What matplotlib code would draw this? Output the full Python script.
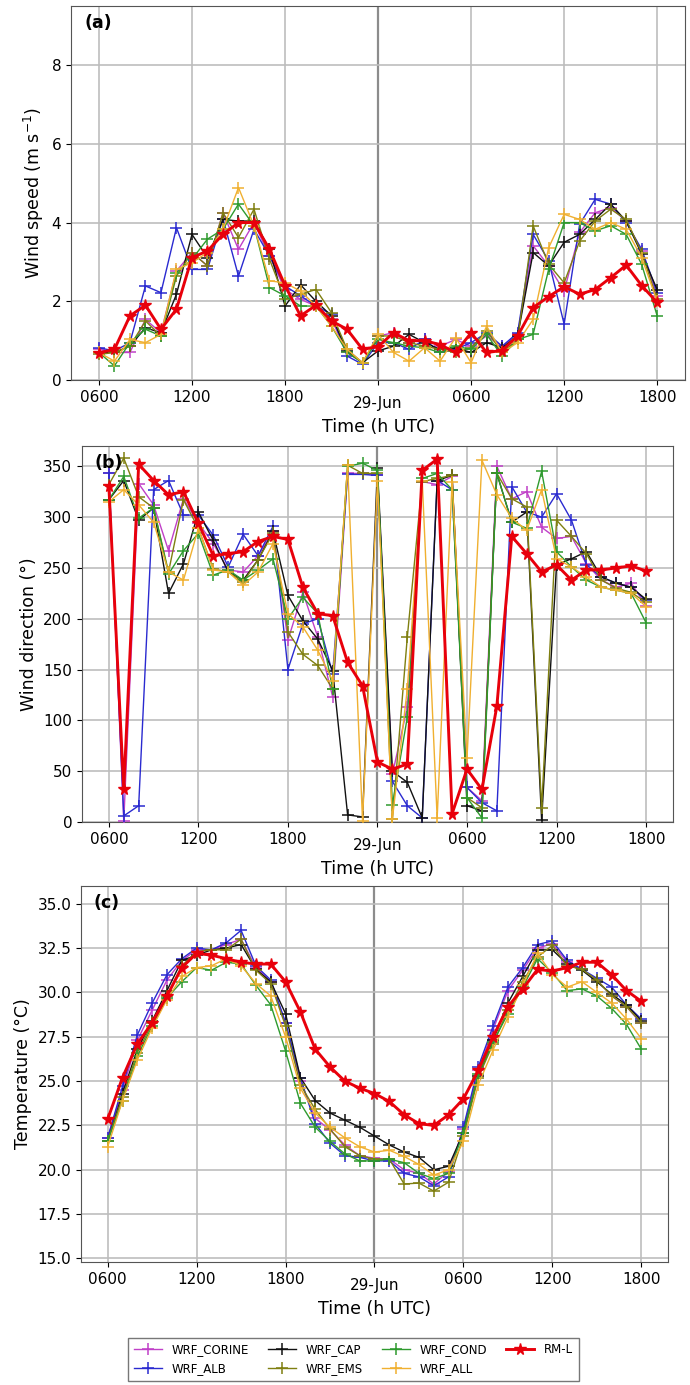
import matplotlib
matplotlib.use("Agg")
import matplotlib.pyplot as plt
import numpy as np

# hours after 0600 UTC on 28 Jun, hourly to 1800 UTC on 29 Jun
hours = np.arange(37)
hour_ticks = [0, 6, 12, 24, 30, 36]
hour_labels = ["0600", "1200", "1800", "0600", "1200", "1800"]
day_tick = [18]
day_label = ["29-Jun"]

names = ["WRF_CORINE", "WRF_ALB", "WRF_CAP", "WRF_EMS", "WRF_COND", "WRF_ALL", "RM-L"]
colors = ["#c040c8", "#2a2ad0", "#111111", "#7f7f10", "#2e9a2e", "#f0b030", "#e8000b"]

# (a) wind speed (m/s)
ws_corine = [0.78, 0.7, 0.7, 1.54, 1.2, 2.77, 3.24, 2.9, 4.25, 3.32, 4.0, 3.15, 2.3, 2.05, 1.88, 1.54, 0.7, 0.44, 1.12,
             1.2, 0.95, 1.03, 0.86, 1.03, 0.86, 1.12, 0.86, 1.16, 3.41, 2.9, 2.26, 3.75, 4.25, 4.38, 4.04, 3.28, 2.14]
ws_alb = [0.82, 0.74, 0.95, 2.39, 2.22, 3.87, 2.81, 2.81, 4.1, 2.64, 3.83, 3.15, 2.39, 2.14, 1.88, 1.67, 0.61, 0.4, 0.95,
          0.95, 0.78, 1.03, 0.7, 0.78, 0.95, 1.2, 0.86, 1.2, 3.7, 3.03, 1.42, 3.96, 4.59, 4.47, 4.0, 3.32, 2.22]
ws_cap = [0.7, 0.7, 0.86, 1.33, 1.2, 2.18, 3.7, 3.11, 4.08, 4.04, 4.04, 3.32, 1.88, 2.42, 2.0, 1.63, 0.74, 0.44, 0.74,
          0.86, 1.16, 0.95, 0.78, 0.82, 0.7, 0.95, 0.82, 1.12, 3.24, 2.9, 3.5, 3.7, 4.08, 4.47, 4.04, 3.2, 2.3]
ws_ems = [0.65, 0.7, 0.86, 1.5, 1.12, 2.64, 3.24, 2.9, 4.25, 3.62, 4.34, 3.07, 2.05, 2.18, 2.3, 1.71, 0.78, 0.44, 1.12,
          1.12, 0.95, 0.86, 0.78, 0.7, 0.82, 1.25, 0.7, 1.03, 3.92, 2.94, 2.47, 3.53, 4.04, 4.34, 4.08, 3.24, 2.05]
ws_cond = [0.7, 0.36, 0.95, 1.29, 1.12, 2.73, 3.07, 3.58, 3.83, 4.47, 3.92, 2.35, 2.14, 1.88, 1.88, 1.37, 0.7, 0.44, 1.03,
           0.95, 0.86, 0.82, 0.7, 0.86, 0.78, 1.16, 0.61, 1.03, 1.16, 2.81, 4.0, 4.0, 3.79, 3.92, 3.7, 2.94, 1.63]
ws_all = [0.7, 0.48, 1.03, 0.95, 1.16, 2.81, 2.98, 3.24, 3.83, 4.89, 3.92, 2.52, 2.47, 2.26, 1.88, 1.37, 0.78, 0.44, 1.16,
          0.7, 0.48, 0.82, 0.48, 1.08, 0.44, 1.37, 0.7, 0.95, 1.54, 3.36, 4.21, 4.08, 3.83, 4.0, 3.83, 3.11, 2.0]
ws_rml = [0.69, 0.78, 1.63, 1.9, 1.29, 1.8, 3.11, 3.28, 3.7, 4.0, 4.0, 3.32, 2.4, 1.63, 1.9, 1.5, 1.29, 0.78, 0.85,
          1.2, 1.0, 1.0, 0.9, 0.7, 1.2, 0.7, 0.75, 1.12, 1.84, 2.12, 2.37, 2.18, 2.3, 2.6, 2.92, 2.4, 1.97]

# (b) wind direction (deg)
wd_corine = [343, 1, 333, 312, 267, 318, 294, 274, 248, 246, 262, 286, 179, 226, 182, 123, 343, 343, 341,
             47, 113, 335, 332, 340, 34, 21, 350, 318, 325, 290, 279, 281, 254, 238, 231, 235, 213]
wd_alb = [343, 6, 16, 327, 336, 302, 302, 282, 251, 283, 262, 291, 150, 195, 200, 146, 342, 342, 341,
          40, 16, 4, 336, 327, 34, 19, 11, 330, 305, 300, 323, 297, 253, 241, 235, 231, 218]
wd_cap = [317, 336, 297, 309, 225, 254, 305, 277, 246, 238, 258, 286, 223, 198, 180, 149, 7, 5, 348,
          50, 39, 4, 336, 341, 16, 11, 343, 295, 305, 2, 253, 259, 266, 241, 235, 231, 219]
wd_ems = [332, 358, 320, 309, 246, 317, 289, 249, 246, 236, 258, 284, 187, 165, 154, 131, 351, 343, 343,
          3, 182, 335, 338, 341, 24, 14, 343, 318, 310, 14, 297, 281, 264, 238, 230, 226, 216]
wd_cond = [317, 340, 299, 309, 244, 267, 284, 243, 248, 238, 248, 259, 200, 221, 205, 131, 350, 353, 346,
           17, 103, 338, 343, 327, 24, 4, 343, 295, 289, 345, 266, 251, 238, 231, 228, 225, 196]
wd_all = [315, 327, 312, 295, 246, 238, 289, 248, 246, 233, 246, 274, 205, 192, 169, 139, 351, 1, 336,
          3, 131, 336, 4, 335, 63, 356, 322, 299, 287, 327, 259, 251, 241, 231, 228, 225, 212]
wd_rml = [331, 32, 352, 336, 322, 325, 294, 262, 264, 266, 276, 281, 278, 231, 205, 203, 157, 134, 59,
          52, 57, 346, 357, 8, 52, 32, 114, 281, 264, 246, 253, 238, 248, 248, 250, 252, 247]

# (c) temperature (degC)
t_corine = [21.8, 24.5, 27.3, 29.0, 30.7, 31.8, 32.4, 32.4, 32.7, 33.0, 31.4, 30.6, 28.25, 25.0, 22.9, 22.25, 21.4, 20.8, 20.65,
            20.6, 20.0, 19.8, 19.2, 19.9, 22.3, 25.6, 27.9, 30.1, 31.25, 32.5, 32.75, 31.7, 31.3, 30.7, 29.8, 29.2, 28.25]
t_alb = [21.8, 24.7, 27.6, 29.4, 31.0, 31.9, 32.5, 32.4, 32.8, 33.5, 31.5, 30.7, 28.3, 25.2, 22.6, 21.5, 20.8, 20.7, 20.5,
         20.5, 19.8, 19.6, 19.1, 19.6, 22.4, 25.8, 28.1, 30.3, 31.4, 32.7, 32.9, 31.8, 31.3, 30.8, 30.3, 29.3, 28.5]
t_cap = [21.6, 24.3, 26.8, 28.4, 30.1, 31.8, 32.1, 32.4, 32.5, 32.7, 31.3, 30.6, 28.8, 25.2, 23.9, 23.2, 22.8, 22.4, 21.9,
         21.4, 21.0, 20.7, 20.0, 20.2, 22.1, 25.3, 27.3, 29.4, 30.9, 32.4, 32.4, 31.6, 31.25, 30.6, 29.9, 29.3, 28.4]
t_ems = [21.65, 24.1, 26.6, 28.25, 29.8, 31.5, 32.3, 32.4, 32.4, 33.0, 31.25, 30.5, 28.1, 24.8, 23.4, 22.3, 21.3, 20.8, 20.6,
         20.6, 19.2, 19.25, 18.8, 19.3, 21.9, 25.2, 27.1, 29.0, 30.6, 32.0, 32.65, 31.5, 31.3, 30.7, 29.8, 29.2, 28.3]
t_cond = [21.6, 23.9, 26.4, 28.1, 29.7, 30.6, 31.4, 31.25, 31.7, 31.6, 30.4, 29.3, 26.7, 23.75, 22.4, 21.6, 20.9, 20.5, 20.5,
          20.6, 20.4, 19.8, 19.5, 19.8, 22.1, 25.4, 27.2, 28.8, 30.3, 31.9, 31.1, 30.1, 30.2, 29.8, 29.1, 28.2, 26.8]
t_all = [21.3, 23.9, 26.2, 28.0, 29.6, 30.9, 31.4, 31.5, 31.9, 31.5, 30.5, 29.8, 27.5, 24.6, 23.2, 22.4, 21.8, 21.3, 21.0,
         21.1, 20.75, 20.3, 19.7, 20.0, 21.6, 24.8, 26.75, 28.6, 30.4, 32.2, 31.0, 30.3, 30.6, 30.0, 29.4, 28.5, 27.4]
t_rml = [22.85, 25.2, 27.1, 28.3, 29.8, 31.4, 32.2, 32.1, 31.9, 31.7, 31.6, 31.6, 30.6, 28.9, 26.8, 25.8, 25.0, 24.6, 24.3,
         23.85, 23.1, 22.6, 22.5, 23.1, 24.0, 25.6, 27.5, 29.2, 30.2, 31.3, 31.2, 31.4, 31.7, 31.7, 31.0, 30.1, 29.5]

panels = [
    ([ws_corine, ws_alb, ws_cap, ws_ems, ws_cond, ws_all, ws_rml], "Wind speed (m s$^{-1}$)", "(a)",
     [0.1029, 0.7256, 0.890, 0.270], (0, 9.5), [0, 2, 4, 6, 8], ["0", "2", "4", "6", "8"]),
    ([wd_corine, wd_alb, wd_cap, wd_ems, wd_cond, wd_all, wd_rml], "Wind direction (°)", "(b)",
     [0.1188, 0.4065, 0.8565, 0.2715], (0, 370), [0, 50, 100, 150, 200, 250, 300, 350],
     ["0", "50", "100", "150", "200", "250", "300", "350"]),
    ([t_corine, t_alb, t_cap, t_ems, t_cond, t_all, t_rml], "Temperature (°C)", "(c)",
     [0.1174, 0.0888, 0.8507, 0.2715], (14.8, 36.0),
     [15.0, 17.5, 20.0, 22.5, 25.0, 27.5, 30.0, 32.5, 35.0],
     ["15.0", "17.5", "20.0", "22.5", "25.0", "27.5", "30.0", "32.5", "35.0"]),
]

fig = plt.figure(figsize=(6.9, 13.85), dpi=100)

for series, ylabel, tag, rect, ylim, yticks, ylabels in panels:
    ax = fig.add_axes(rect)
    for vals, name, col in zip(series, names, colors):
        if name == "RM-L":
            ax.plot(hours, vals, color=col, marker="*", ms=8.5, lw=2.1, label=name, zorder=5)
        else:
            ax.plot(hours, vals, color=col, marker="+", ms=9, mew=1.1, lw=1.0, label=name, zorder=3)
    ax.set_xlim(-1.8, 37.8)
    ax.set_ylim(*ylim)
    ax.set_yticks(yticks)
    ax.set_yticklabels(ylabels)
    ax.set_xticks(hour_ticks, minor=True)
    ax.set_xticklabels(hour_labels, minor=True)
    ax.set_xticks(day_tick)
    ax.set_xticklabels(day_label)
    ax.tick_params(axis="x", which="major", pad=8, labelsize=11)
    ax.tick_params(axis="x", which="minor", length=3.5, width=0.8, pad=3.5, labelsize=11)
    ax.tick_params(axis="y", labelsize=11)
    ax.grid(True, which="both", color="#bdbdbd", lw=1.2, zorder=0)
    ax.xaxis.grid(True, which="major", color="#8c8c8c", lw=1.6)
    ax.set_axisbelow(True)
    for s in ax.spines.values():
        s.set_color("#555555")
    ax.set_xlabel("Time (h UTC)", fontsize=12.5, labelpad=5)
    ax.set_ylabel(ylabel, fontsize=12.5)
    ax.text(0.022, 0.955, tag, transform=ax.transAxes, fontsize=12.5, fontweight="bold",
            va="center", ha="left")

handles, labels = ax.get_legend_handles_labels()
fig.legend(handles, labels, ncol=4, loc="upper center", bbox_to_anchor=(0.512, 0.0385),
           fontsize=8.5, frameon=True, fancybox=False, edgecolor="#555555",
           handlelength=2.4, columnspacing=1.6, borderpad=0.5)

plt.savefig("out.png", dpi=100)
